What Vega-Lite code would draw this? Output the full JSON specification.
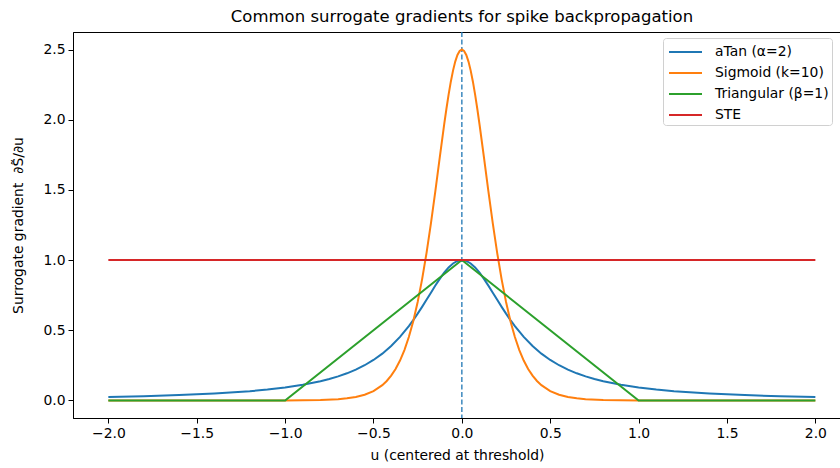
{
  "$schema": "https://vega.github.io/schema/vega-lite/v6.json",
  "autosize": "none",
  "width": 768,
  "height": 386,
  "padding": {"left": 73, "top": 32, "right": 0, "bottom": 50},
  "background": "white",
  "config": {
    "font": "DejaVu Sans",
    "view": {"stroke": "black", "strokeWidth": 1},
    "axis": {"grid": false, "domainColor": "black", "tickColor": "black", "labelColor": "black", "titleColor": "black", "labelFontSize": 13.9, "titleFontSize": 13.9, "titleFontWeight": "normal", "tickSize": 5, "labelPadding": 3}
  },
  "title": {"text": "Common surrogate gradients for spike backpropagation", "fontSize": 16.5, "fontWeight": "normal", "font": "DejaVu Sans", "anchor": "middle", "offset": 6, "color": "black", "dx": 5},
  "datasets": {
    "curves": [
      {"series": "aTan (α=2)", "u": -2.0, "g": 0.0247},
      {"series": "aTan (α=2)", "u": -1.8, "g": 0.0303},
      {"series": "aTan (α=2)", "u": -1.6, "g": 0.0381},
      {"series": "aTan (α=2)", "u": -1.4, "g": 0.0492},
      {"series": "aTan (α=2)", "u": -1.2, "g": 0.0657},
      {"series": "aTan (α=2)", "u": -1.1, "g": 0.0773},
      {"series": "aTan (α=2)", "u": -1.0, "g": 0.0920},
      {"series": "aTan (α=2)", "u": -0.9, "g": 0.1112},
      {"series": "aTan (α=2)", "u": -0.8, "g": 0.1367},
      {"series": "aTan (α=2)", "u": -0.75, "g": 0.1526},
      {"series": "aTan (α=2)", "u": -0.7, "g": 0.1713},
      {"series": "aTan (α=2)", "u": -0.65, "g": 0.1934},
      {"series": "aTan (α=2)", "u": -0.6, "g": 0.2196},
      {"series": "aTan (α=2)", "u": -0.55, "g": 0.2509},
      {"series": "aTan (α=2)", "u": -0.5, "g": 0.2884},
      {"series": "aTan (α=2)", "u": -0.45, "g": 0.3335},
      {"series": "aTan (α=2)", "u": -0.4, "g": 0.3877},
      {"series": "aTan (α=2)", "u": -0.35, "g": 0.4527},
      {"series": "aTan (α=2)", "u": -0.3, "g": 0.5296},
      {"series": "aTan (α=2)", "u": -0.275, "g": 0.5726},
      {"series": "aTan (α=2)", "u": -0.25, "g": 0.6185},
      {"series": "aTan (α=2)", "u": -0.225, "g": 0.6668},
      {"series": "aTan (α=2)", "u": -0.2, "g": 0.7170},
      {"series": "aTan (α=2)", "u": -0.175, "g": 0.7679},
      {"series": "aTan (α=2)", "u": -0.15, "g": 0.8183},
      {"series": "aTan (α=2)", "u": -0.125, "g": 0.8664},
      {"series": "aTan (α=2)", "u": -0.1, "g": 0.9102},
      {"series": "aTan (α=2)", "u": -0.075, "g": 0.9474},
      {"series": "aTan (α=2)", "u": -0.05, "g": 0.9759},
      {"series": "aTan (α=2)", "u": -0.025, "g": 0.9939},
      {"series": "aTan (α=2)", "u": 0.0, "g": 1.0},
      {"series": "aTan (α=2)", "u": 0.025, "g": 0.9939},
      {"series": "aTan (α=2)", "u": 0.05, "g": 0.9759},
      {"series": "aTan (α=2)", "u": 0.075, "g": 0.9474},
      {"series": "aTan (α=2)", "u": 0.1, "g": 0.9102},
      {"series": "aTan (α=2)", "u": 0.125, "g": 0.8664},
      {"series": "aTan (α=2)", "u": 0.15, "g": 0.8183},
      {"series": "aTan (α=2)", "u": 0.175, "g": 0.7679},
      {"series": "aTan (α=2)", "u": 0.2, "g": 0.7170},
      {"series": "aTan (α=2)", "u": 0.225, "g": 0.6668},
      {"series": "aTan (α=2)", "u": 0.25, "g": 0.6185},
      {"series": "aTan (α=2)", "u": 0.275, "g": 0.5726},
      {"series": "aTan (α=2)", "u": 0.3, "g": 0.5296},
      {"series": "aTan (α=2)", "u": 0.35, "g": 0.4527},
      {"series": "aTan (α=2)", "u": 0.4, "g": 0.3877},
      {"series": "aTan (α=2)", "u": 0.45, "g": 0.3335},
      {"series": "aTan (α=2)", "u": 0.5, "g": 0.2884},
      {"series": "aTan (α=2)", "u": 0.55, "g": 0.2509},
      {"series": "aTan (α=2)", "u": 0.6, "g": 0.2196},
      {"series": "aTan (α=2)", "u": 0.65, "g": 0.1934},
      {"series": "aTan (α=2)", "u": 0.7, "g": 0.1713},
      {"series": "aTan (α=2)", "u": 0.75, "g": 0.1526},
      {"series": "aTan (α=2)", "u": 0.8, "g": 0.1367},
      {"series": "aTan (α=2)", "u": 0.9, "g": 0.1112},
      {"series": "aTan (α=2)", "u": 1.0, "g": 0.0920},
      {"series": "aTan (α=2)", "u": 1.1, "g": 0.0773},
      {"series": "aTan (α=2)", "u": 1.2, "g": 0.0657},
      {"series": "aTan (α=2)", "u": 1.4, "g": 0.0492},
      {"series": "aTan (α=2)", "u": 1.6, "g": 0.0381},
      {"series": "aTan (α=2)", "u": 1.8, "g": 0.0303},
      {"series": "aTan (α=2)", "u": 2.0, "g": 0.0247},

      {"series": "Sigmoid (k=10)", "u": -2.0, "g": 0.0},
      {"series": "Sigmoid (k=10)", "u": -1.5, "g": 0.0},
      {"series": "Sigmoid (k=10)", "u": -1.0, "g": 0.00045},
      {"series": "Sigmoid (k=10)", "u": -0.9, "g": 0.00123},
      {"series": "Sigmoid (k=10)", "u": -0.8, "g": 0.00335},
      {"series": "Sigmoid (k=10)", "u": -0.7, "g": 0.0091},
      {"series": "Sigmoid (k=10)", "u": -0.65, "g": 0.0150},
      {"series": "Sigmoid (k=10)", "u": -0.6, "g": 0.0247},
      {"series": "Sigmoid (k=10)", "u": -0.55, "g": 0.0405},
      {"series": "Sigmoid (k=10)", "u": -0.5, "g": 0.0665},
      {"series": "Sigmoid (k=10)", "u": -0.45, "g": 0.1087},
      {"series": "Sigmoid (k=10)", "u": -0.425, "g": 0.1387},
      {"series": "Sigmoid (k=10)", "u": -0.4, "g": 0.1766},
      {"series": "Sigmoid (k=10)", "u": -0.375, "g": 0.2245},
      {"series": "Sigmoid (k=10)", "u": -0.35, "g": 0.2845},
      {"series": "Sigmoid (k=10)", "u": -0.325, "g": 0.3593},
      {"series": "Sigmoid (k=10)", "u": -0.3, "g": 0.4518},
      {"series": "Sigmoid (k=10)", "u": -0.275, "g": 0.5644},
      {"series": "Sigmoid (k=10)", "u": -0.25, "g": 0.7010},
      {"series": "Sigmoid (k=10)", "u": -0.225, "g": 0.8627},
      {"series": "Sigmoid (k=10)", "u": -0.2, "g": 1.0499},
      {"series": "Sigmoid (k=10)", "u": -0.175, "g": 1.2613},
      {"series": "Sigmoid (k=10)", "u": -0.15, "g": 1.4915},
      {"series": "Sigmoid (k=10)", "u": -0.125, "g": 1.7311},
      {"series": "Sigmoid (k=10)", "u": -0.1, "g": 1.9661},
      {"series": "Sigmoid (k=10)", "u": -0.0875, "g": 2.0765},
      {"series": "Sigmoid (k=10)", "u": -0.075, "g": 2.1789},
      {"series": "Sigmoid (k=10)", "u": -0.0625, "g": 2.2709},
      {"series": "Sigmoid (k=10)", "u": -0.05, "g": 2.3500},
      {"series": "Sigmoid (k=10)", "u": -0.0375, "g": 2.4141},
      {"series": "Sigmoid (k=10)", "u": -0.025, "g": 2.4613},
      {"series": "Sigmoid (k=10)", "u": -0.0125, "g": 2.4903},
      {"series": "Sigmoid (k=10)", "u": 0.0, "g": 2.5},
      {"series": "Sigmoid (k=10)", "u": 0.0125, "g": 2.4903},
      {"series": "Sigmoid (k=10)", "u": 0.025, "g": 2.4613},
      {"series": "Sigmoid (k=10)", "u": 0.0375, "g": 2.4141},
      {"series": "Sigmoid (k=10)", "u": 0.05, "g": 2.3500},
      {"series": "Sigmoid (k=10)", "u": 0.0625, "g": 2.2709},
      {"series": "Sigmoid (k=10)", "u": 0.075, "g": 2.1789},
      {"series": "Sigmoid (k=10)", "u": 0.0875, "g": 2.0765},
      {"series": "Sigmoid (k=10)", "u": 0.1, "g": 1.9661},
      {"series": "Sigmoid (k=10)", "u": 0.125, "g": 1.7311},
      {"series": "Sigmoid (k=10)", "u": 0.15, "g": 1.4915},
      {"series": "Sigmoid (k=10)", "u": 0.175, "g": 1.2613},
      {"series": "Sigmoid (k=10)", "u": 0.2, "g": 1.0499},
      {"series": "Sigmoid (k=10)", "u": 0.225, "g": 0.8627},
      {"series": "Sigmoid (k=10)", "u": 0.25, "g": 0.7010},
      {"series": "Sigmoid (k=10)", "u": 0.275, "g": 0.5644},
      {"series": "Sigmoid (k=10)", "u": 0.3, "g": 0.4518},
      {"series": "Sigmoid (k=10)", "u": 0.325, "g": 0.3593},
      {"series": "Sigmoid (k=10)", "u": 0.35, "g": 0.2845},
      {"series": "Sigmoid (k=10)", "u": 0.375, "g": 0.2245},
      {"series": "Sigmoid (k=10)", "u": 0.4, "g": 0.1766},
      {"series": "Sigmoid (k=10)", "u": 0.425, "g": 0.1387},
      {"series": "Sigmoid (k=10)", "u": 0.45, "g": 0.1087},
      {"series": "Sigmoid (k=10)", "u": 0.5, "g": 0.0665},
      {"series": "Sigmoid (k=10)", "u": 0.55, "g": 0.0405},
      {"series": "Sigmoid (k=10)", "u": 0.6, "g": 0.0247},
      {"series": "Sigmoid (k=10)", "u": 0.65, "g": 0.0150},
      {"series": "Sigmoid (k=10)", "u": 0.7, "g": 0.0091},
      {"series": "Sigmoid (k=10)", "u": 0.8, "g": 0.00335},
      {"series": "Sigmoid (k=10)", "u": 0.9, "g": 0.00123},
      {"series": "Sigmoid (k=10)", "u": 1.0, "g": 0.00045},
      {"series": "Sigmoid (k=10)", "u": 1.5, "g": 0.0},
      {"series": "Sigmoid (k=10)", "u": 2.0, "g": 0.0},

      {"series": "Triangular (β=1)", "u": -2.0, "g": 0.0},
      {"series": "Triangular (β=1)", "u": -1.0, "g": 0.0},
      {"series": "Triangular (β=1)", "u": 0.0, "g": 1.0},
      {"series": "Triangular (β=1)", "u": 1.0, "g": 0.0},
      {"series": "Triangular (β=1)", "u": 2.0, "g": 0.0},

      {"series": "STE", "u": -2.0, "g": 1.0},
      {"series": "STE", "u": 2.0, "g": 1.0}
    ],
    "threshold": [{"u": 0}]
  },
  "layer": [
    {
      "data": {"name": "threshold"},
      "mark": {"type": "rule", "color": "#1f77b4", "strokeWidth": 1.3, "strokeDash": [5, 2.5]},
      "encoding": {
        "x": {"field": "u", "type": "quantitative", "scale": {"domain": [-2.2, 2.145], "nice": false, "zero": false}}
      }
    },
    {
      "data": {"name": "curves"},
      "mark": {"type": "line", "strokeWidth": 2, "clip": true},
      "encoding": {
        "x": {"field": "u", "type": "quantitative", "scale": {"domain": [-2.2, 2.145], "nice": false, "zero": false},
          "axis": {"title": "u (centered at threshold)", "values": [-2, -1.5, -1, -0.5, 0, 0.5, 1, 1.5, 2], "format": ".1f", "titlePadding": 9}},
        "y": {"field": "g", "type": "quantitative", "scale": {"domain": [-0.125, 2.625], "nice": false, "zero": false},
          "axis": {"title": "Surrogate gradient\u00a0\u00a0∂S̃/∂u", "values": [0, 0.5, 1, 1.5, 2, 2.5], "format": ".1f", "titlePadding": 17}},
        "color": {"field": "series", "type": "nominal",
          "scale": {"domain": ["aTan (α=2)", "Sigmoid (k=10)", "Triangular (β=1)", "STE"], "range": ["#1f77b4", "#ff7f0e", "#2ca02c", "#d62728"]},
          "legend": {"title": null, "orient": "none", "legendX": 590, "legendY": 6, "symbolType": "M-0.8,0H2.5", "symbolSize": 400, "symbolStrokeWidth": 2, "labelFontSize": 13.9, "labelColor": "black", "strokeColor": "#d0d0d0", "fillColor": "white", "cornerRadius": 3, "padding": 3, "rowPadding": 3, "labelOffset": 27, "symbolOffset": 0}},
        "order": {"field": "u", "type": "quantitative"}
      }
    }
  ]
}
